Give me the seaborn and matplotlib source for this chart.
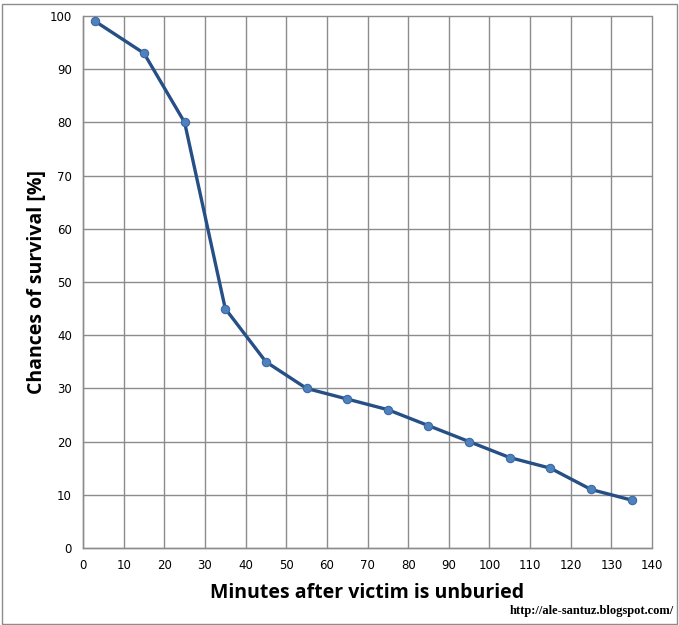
import seaborn as sns
import matplotlib
matplotlib.use("Agg")
import matplotlib.pyplot as plt
import pandas as pd
from matplotlib.patches import Rectangle

# data
minutes = [3, 15, 25, 35, 45, 55, 65, 75, 85, 95, 105, 115, 125, 135]
survival = [99, 93, 80, 45, 35, 30, 28, 26, 23, 20, 17, 15, 11, 9]
x_ticks = list(range(0, 141, 10))
y_ticks = list(range(0, 101, 10))

df = pd.DataFrame({"minutes": minutes, "survival": survival})

sns.set_style("white")
plt.rcParams["font.family"] = ["DejaVu Sans"]
plt.rcParams["text.color"] = "black"
plt.rcParams["xtick.labelcolor"] = "black"
plt.rcParams["ytick.labelcolor"] = "black"
plt.rcParams["axes.labelcolor"] = "black"

fig = plt.figure(figsize=(6.79, 6.25), dpi=100)
ax = fig.add_axes([83 / 679, 1 - 548 / 625, (652 - 83) / 679, (548 - 16) / 625])

sns.lineplot(data=df, x="minutes", y="survival", ax=ax, color="#254f85",
             linewidth=2.4, marker="o", markersize=6,
             markerfacecolor="#4f81bd", markeredgecolor="#3a6aa3",
             markeredgewidth=0.8, zorder=3)

ax.set_xlim(0, 140)
ax.set_ylim(0, 100)
ax.set_xticks(x_ticks)
ax.set_yticks(y_ticks)
ax.grid(True, color="#8c8c8c", linewidth=1)
for gl in ax.get_xgridlines() + ax.get_ygridlines():
    gl.set_clip_on(False)
ax.set_axisbelow(True)
for side in ["top", "right"]:
    ax.spines[side].set_visible(False)
for side in ["left", "bottom"]:
    ax.spines[side].set_color("#8c8c8c")
    ax.spines[side].set_linewidth(1)
ax.tick_params(axis="both", direction="out", length=4, width=1, color="#8c8c8c",
               labelsize=8.5, pad=4)

ax.set_xlabel("Minutes after victim is unburied", fontsize=14, fontweight="bold",
              family="Open Sans", labelpad=8)
ax.set_ylabel("Chances of survival [%]", fontsize=14, fontweight="bold",
              family="Open Sans", labelpad=2)

fig.text(674 / 679, 1 - 617 / 625, "http://ale-santuz.blogspot.com/", ha="right",
         va="bottom", fontsize=9, fontweight="bold", family="Liberation Serif")

fig.patches.append(Rectangle((1.5 / 679, 1.5 / 625), 675 / 679, 620 / 625,
                             transform=fig.transFigure, fill=False,
                             edgecolor="#8c8c8c", linewidth=1))

fig.savefig("out.png", dpi=100)
